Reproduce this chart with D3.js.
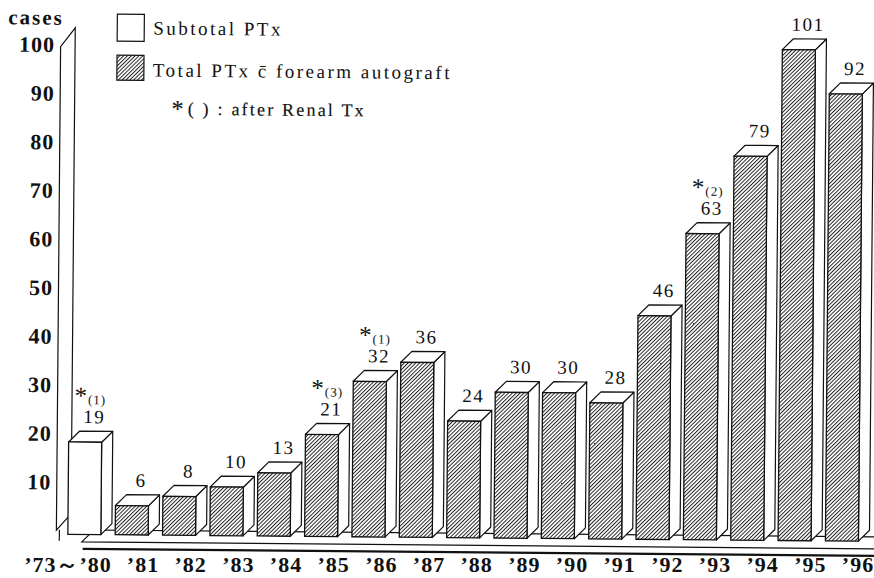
<!DOCTYPE html>
<html><head><meta charset="utf-8">
<script src="https://cdn.jsdelivr.net/npm/d3@7"></script>
<style>body{margin:0;background:#fff} svg{display:block}</style>
</head><body>
<svg id="chart" width="874" height="578"></svg>
<script>
const categories = ["’73～’80","’81","’82","’83","’84","’85","’86","’87","’88","’89","’90","’91","’92","’93","’94","’95","’96"];
const values = [19,6,8,10,13,21,32,36,24,30,30,28,46,63,79,101,92];
const barKinds = ["subtotal","total","total","total","total","total","total","total","total","total","total","total","total","total","total","total","total"];
const noteCategories = ["’73～’80","’85","’86","’93"];
const noteMarks = ["(1)","(3)","(1)","(2)"];
const yTicks = [10,20,30,40,50,60,70,80,90,100];
const yTitle = "cases";
const legendLabels = ["Subtotal PTx","Total PTx c\u0304 forearm autograft"];
const legendKinds = ["subtotal","total"];
const legendNote = ["*", "(  ) : after Renal Tx"];

const SERIF = "'Liberation Serif','Times New Roman',serif";
const svg = d3.select("#chart");
svg.append("rect").attr("width",874).attr("height",578).attr("fill","#fff");
const defs = svg.append("defs");
const pat = defs.append("pattern").attr("id","hatch").attr("patternUnits","userSpaceOnUse")
  .attr("width",2.7).attr("height",2.7).attr("patternTransform","rotate(45)");
pat.append("rect").attr("width",2.7).attr("height",2.7).attr("fill","#fff");
pat.append("line").attr("x1",0.5).attr("y1",-1).attr("x2",0.5).attr("y2",4).attr("stroke","#1a1a1a").attr("stroke-width",0.95);

const g = svg.append("g").attr("transform","rotate(0.5 437 289)");

const x = d3.scaleBand().domain(categories).range([70, 860.6]).paddingInner(0.303).paddingOuter(0);
const y = d3.scaleLinear().domain([0,100]).range([537.5, 51.5]);
const xl = d3.scalePoint().domain(categories.slice(1)).range([143, 858]);
const DX = 11, DY = 11;
const base = y(0);
const bw = x.bandwidth();
const fillOf = k => k === "total" ? "url(#hatch)" : "#fff";

// back wall
g.append("path").attr("d","M58.5,533.5 L58.5,50 L73,31 L73,517 Z")
  .attr("fill","#fff").attr("stroke","#111").attr("stroke-width",1.2);
g.append("line").attr("x1",61.5).attr("x2",61.5).attr("y1",533).attr("y2",544).attr("stroke","#111").attr("stroke-width",1.2);

// floor
g.append("path").attr("d","M84,545 L96,533 L885,533 L885,545 Z")
  .attr("fill","#fff").attr("stroke","#111").attr("stroke-width",1.2);
g.append("line").attr("x1",85).attr("x2",885).attr("y1",552).attr("y2",552).attr("stroke","#111").attr("stroke-width",2.2);

// bars
const bars = g.selectAll("g.bar").data(categories).join("g").attr("class","bar");
bars.each(function(c, i){
  const s = d3.select(this);
  const x0 = x(c), x1 = x0 + bw, yt = y(values[i]);
  const line = d3.line();
  s.append("path").attr("d", line([[x1,yt],[x1+DX,yt-DY],[x1+DX,base-DY],[x1,base]]) + "Z")
    .attr("fill","#fff").attr("stroke","#111").attr("stroke-width",1.2).attr("stroke-linejoin","round");
  s.append("path").attr("d", line([[x0,yt],[x0+DX,yt-DY],[x1+DX,yt-DY],[x1,yt]]) + "Z")
    .attr("fill","#fff").attr("stroke","#111").attr("stroke-width",1.2).attr("stroke-linejoin","round");
  s.append("rect").attr("x",x0).attr("y",yt).attr("width",bw).attr("height",base-yt)
    .attr("fill",fillOf(barKinds[i])).attr("stroke","#111").attr("stroke-width",1.3);
});

// value labels
const labCx = (c) => x(c) + bw/2 + 9;
const labBy = (i) => y(values[i]) - DY - 8;
g.selectAll("text.val").data(categories).join("text").attr("class","val")
  .attr("x", c => labCx(c)).attr("y", (c,i) => labBy(i))
  .attr("text-anchor","middle").attr("font-family",SERIF).attr("font-size",19)
  .attr("letter-spacing",1.5).attr("fill","#111").text((c,i) => values[i]);

// notes
noteCategories.forEach((c, k) => {
  const i = categories.indexOf(c);
  const t = g.append("text").attr("x", labCx(c) - 20).attr("y", labBy(i) - 19)
    .attr("font-family",SERIF).attr("fill","#111");
  t.append("tspan").attr("font-size",25).text("*");
  t.append("tspan").attr("font-size",13).attr("dx",1).attr("letter-spacing",1).text(noteMarks[k]);
});

// y tick labels
g.selectAll("text.ytick").data(yTicks).join("text").attr("class","ytick")
  .attr("x",53).attr("y", v => y(v) + 4).attr("text-anchor","end")
  .attr("font-family",SERIF).attr("font-weight","bold").attr("font-size",22)
  .attr("letter-spacing",1).attr("fill","#111").text(v => v);
g.append("text").attr("x",6).attr("y",28).attr("font-family",SERIF).attr("font-weight","bold")
  .attr("font-size",21).attr("letter-spacing",2).attr("fill","#111").text(yTitle);

// x labels (kept level so they stay inside the frame)
svg.selectAll("text.xlab").data(categories).join("text").attr("class","xlab")
  .attr("x", (c,i) => i === 0 ? 68 : xl(c)).attr("y",572).attr("text-anchor","middle")
  .attr("font-family",SERIF).attr("font-weight","bold").attr("font-size",22)
  .attr("letter-spacing",1).attr("fill","#111").text(c => c);

// legend
const leg = g.append("g");
const legY = [17, 58], legH = [27, 25], legBase = [37, 79];
legendLabels.forEach((lab, k) => {
  leg.append("rect").attr("x",115).attr("y",legY[k]).attr("width",27).attr("height",legH[k])
    .attr("fill",fillOf(legendKinds[k])).attr("stroke","#111").attr("stroke-width",1.2);
  leg.append("text").attr("x",151).attr("y",legBase[k]).attr("font-family",SERIF)
    .attr("font-size",19).attr("letter-spacing",2.5).attr("fill","#111").text(lab);
});
const nt = leg.append("text").attr("x",170).attr("y",117).attr("font-family",SERIF)
  .attr("font-size",18).attr("letter-spacing",2.2).attr("fill","#111")
  .attr("stroke","#111").attr("stroke-width",0.15);
nt.append("tspan").attr("font-size",24).attr("dy",2).text(legendNote[0]);
nt.append("tspan").attr("dy",-2).attr("dx",2).text(legendNote[1]);
</script>
</body></html>
